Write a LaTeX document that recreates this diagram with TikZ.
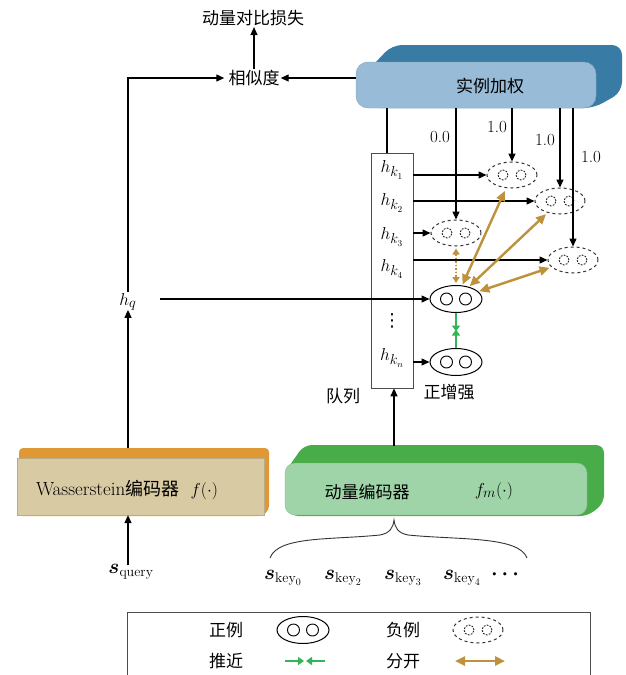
\documentclass[tikz,border=0pt]{standalone}
\usepackage{amsmath}
\usepackage{fontspec}
\newfontfamily\cjk{Noto Sans CJK SC}
\newfontfamily\djv{DejaVu Sans}
\usetikzlibrary{shapes.geometric,arrows.meta,calc}
\definecolor{bluefront}{RGB}{152,188,216}
\definecolor{blueback}{RGB}{56,124,166}
\definecolor{tanfront}{RGB}{216,202,162}
\definecolor{orangeback}{RGB}{224,152,52}
\definecolor{greenfront}{RGB}{158,212,168}
\definecolor{greenback}{RGB}{72,172,72}
\definecolor{goldc}{RGB}{190,145,60}
\definecolor{pushg}{RGB}{50,180,90}
\newcommand\poscirc[1]{\draw[line width=0.9pt] ($(#1)+(-9.5,0)$) circle[radius=6pt] ($(#1)+(9.5,0)$) circle[radius=6pt];}
\newcommand\negcirc[1]{\draw[line width=0.9pt,black!85,dash pattern=on 1.8pt off 1.3pt] ($(#1)+(-9,0)$) circle[radius=5pt] ($(#1)+(9,0)$) circle[radius=5pt];}
\begin{document}
\begin{tikzpicture}[x=1pt,y=-1pt,
  arr/.style={-{Triangle[length=8pt,width=7pt]}, line width=1.3pt},
  ln/.style={line width=1.3pt},
  cn/.style={font=\cjk\fontsize{17}{19}\selectfont, inner sep=1pt},
  num/.style={font=\fontsize{17}{19}\selectfont, inner sep=1pt},
  hk/.style={font=\fontsize{19}{21}\selectfont, inner sep=1pt},
  sk/.style={font=\fontsize{20}{22}\selectfont, inner sep=1pt},
  posell/.style={ellipse, draw, line width=1pt, minimum width=52pt, minimum height=27pt, inner sep=0pt},
  negell/.style={ellipse, draw=black!80, dashed, line width=1pt, minimum width=50pt, minimum height=26pt, inner sep=0pt},
  goldarr/.style={{Triangle[length=10pt,width=9pt]}-{Triangle[length=10pt,width=9pt]}, line width=2.4pt, draw=goldc, fill=goldc},
  pusharr/.style={-{Triangle[length=6pt,width=8pt]}, line width=1.6pt, draw=pushg, fill=pushg}]
\useasboundingbox (0,0) rectangle (625,675);
\fill[white] (0,0) rectangle (625,675);

% top labels
\node[cn] (loss) at (253,18) {动量对比损失};
\node[cn] (sim) at (254,78) {相似度};
\draw[arr] (sim.north) -- (sim.north |- loss.south);

% instance weighting box
\fill[blueback, rounded corners=10pt] (357,82) -- (392,45) -- (622,45) -- (622,92) -- (594,108) -- (370,108) -- cycle;
\node[fill=bluefront, draw=bluefront!85!black, line width=0.4pt, rounded corners=12pt, minimum width=240pt, minimum height=46pt] (iw) at (476,85) {};
\node[cn] (iwt) at (490,86) {实例加权};
\draw[arr] (iw.west |- sim.east) -- (sim.east);

% queue
\node[draw=black!70, line width=0.8pt, minimum width=42pt, minimum height=235pt, inner sep=0pt] (queue) at (392,270.5) {};
\node[hk] (hk1) at (392,170) {$h_{k_1}$};
\node[hk] (hk2) at (392,203) {$h_{k_2}$};
\node[hk] (hk3) at (392,237) {$h_{k_3}$};
\node[hk] (hk4) at (392,269) {$h_{k_4}$};
\node[inner sep=0pt, font=\djv\fontsize{18}{20}\selectfont] (hkd) at (392,321) {⋮};
\node[hk] (hkn) at (392,358) {$h_{k_n}$};
\node[cn] (qlab) at (343,396) {队列};
\node[cn] (plab) at (449,392) {正增强};

% ellipses
\node[negell] (n1) at (512,175) {};
\node[negell] (n2) at (560,201) {};
\node[negell] (n3) at (456,233) {};
\node[negell] (n4) at (573,260) {};
\node[posell] (pq) at (456,299) {};
\node[posell] (pk) at (456,362) {};
\negcirc{n1}\negcirc{n2}\negcirc{n3}\negcirc{n4}
\poscirc{pq}\poscirc{pk}

% weighting lines
\draw[ln] ([xshift=-5pt]queue.north) -- ([xshift=-5pt]queue.north |- iw.south);
\draw[arr] (iw.south -| n3.north) -- (n3.north);
\draw[arr] (iw.south -| n1.north) -- (n1.north);
\draw[arr] (iw.south -| n2.north) -- (n2.north);
\draw[arr] (iw.south -| n4.north) -- (n4.north);
\node[num] (w3) at (440,137) {0.0};
\node[num] (w1) at (497,127) {1.0};
\node[num] (w2) at (545,140) {1.0};
\node[num] (w4) at (591,157) {1.0};

% queue to ellipses
\draw[arr] (queue.east |- n1.west) -- (n1.west);
\draw[arr] (queue.east |- n2.west) -- (n2.west);
\draw[arr] (queue.east |- n3.west) -- (n3.west);
\draw[arr] (queue.east |- n4.west) -- (n4.west);
\draw[arr] (queue.east |- pk.west) -- (pk.west);

% query
\node[hk] (hq) at (128,302) {$h_q$};
\coordinate (hqr) at (160,299);
\draw[arr] (hqr) -- (pq.west);
\draw[arr] (hq.north) |- ([xshift=-3pt]sim.west);

% push / pull
\coordinate (mid) at ($(pq.south)!0.5!(pk.north)$);
\draw[pusharr] (pq.south) -- ([yshift=-1pt]mid);
\draw[pusharr] (pk.north) -- ([yshift=1pt]mid);
\draw[goldarr, shorten <=1pt, shorten >=3pt] (pq) -- (n1);
\draw[goldarr, shorten <=1pt, shorten >=2pt] (pq) -- (n2);
\draw[goldarr, shorten <=1pt, shorten >=2pt] (pq) -- (n4);
\draw[{Triangle[length=6pt,width=7pt]}-{Triangle[length=6pt,width=7pt]}, line width=1.5pt, draw=goldc, fill=goldc, dash pattern=on 1.5pt off 2pt] ([yshift=-2pt]n3.south) -- ([yshift=2pt]pq.north);

% Wasserstein encoder
\fill[orangeback, rounded corners=4pt] (19,448) -- (269,448) -- (269,510) -- (262,516) -- (19,516) -- cycle;
\node[fill=tanfront, draw=tanfront!85!black, line width=0.3pt, minimum width=247pt, minimum height=57pt, inner sep=0pt] (wass) at (140.5,486.5) {};
\node[inner sep=1pt, font=\fontsize{19}{21}\selectfont] (wasst) at (127,490) {Wasserstein{\cjk\fontsize{18}{20}\selectfont 编码器}\ \ $f(\cdot)$};
\coordinate (wtop) at (128,448);
\draw[arr] (wtop) -- ([yshift=2pt]hq.south);
\node[sk] (sq) at (131,572) {$\boldsymbol{s}_{\text{query}}$};
\draw[arr] ([yshift=-2pt]sq.north -| wtop) -- (wass.south -| wtop);

% momentum encoder
\fill[greenback, rounded corners=8pt] (285,472) -- (304,445) -- (604,445) -- (604,503) -- (588,516) -- (290,516) -- cycle;
\node[fill=greenfront, draw=greenfront!85!black, line width=0.3pt, rounded corners=10pt, minimum width=302pt, minimum height=52pt, inner sep=0pt] (mom) at (436,489) {};
\node[cn] (momt) at (367,492) {动量编码器};
\node[hk] (fm) at (494,491) {$f_m(\cdot)$};
\coordinate (mtop) at (394,446);
\draw[arr] (mtop) -- (queue.south -| mtop);

% brace
\draw[line width=0.9pt, black!80] (270,558) .. controls (278,536) and (330,540) .. (380,535) .. controls (390,533) and (393,528) .. (394,520)
  .. controls (395,528) and (398,533) .. (408,535) .. controls (458,540) and (519,536) .. (527,558);
\node[sk] (k0) at (283,578) {$\boldsymbol{s}_{\mathrm{key}_0}$};
\node[sk] (k2) at (343,578) {$\boldsymbol{s}_{\mathrm{key}_2}$};
\node[sk] (k3) at (403,578) {$\boldsymbol{s}_{\mathrm{key}_3}$};
\node[sk] (k4) at (462,578) {$\boldsymbol{s}_{\mathrm{key}_4}$};
\node[sk] (kd) at (507,575) {$\boldsymbol{\cdots}$};

% legend
\draw[line width=0.8pt, black!70] (127,675) -- (127,612) -- (590,612) -- (590,675);
\node[cn] (lpos) at (226,630) {正例};
\node[posell] (lpe) at (303,630) {};
\poscirc{lpe}
\node[cn] (lneg) at (403,630) {负例};
\node[negell] (lne) at (478,630) {};
\negcirc{lne}
\node[cn] (lpush) at (226,661) {推近};
\coordinate (lg1) at (285,661);
\coordinate (lg2) at (325,661);
\coordinate (lgm) at (305,661);
\draw[pusharr] (lg1) -- ([xshift=-1pt]lgm);
\draw[pusharr] (lg2) -- ([xshift=1pt]lgm);
\node[cn] (lsep) at (403,661) {分开};
\coordinate (lo1) at (455,661);
\coordinate (lo2) at (505,661);
\draw[goldarr] (lo1) -- (lo2);
\end{tikzpicture}
\end{document}
